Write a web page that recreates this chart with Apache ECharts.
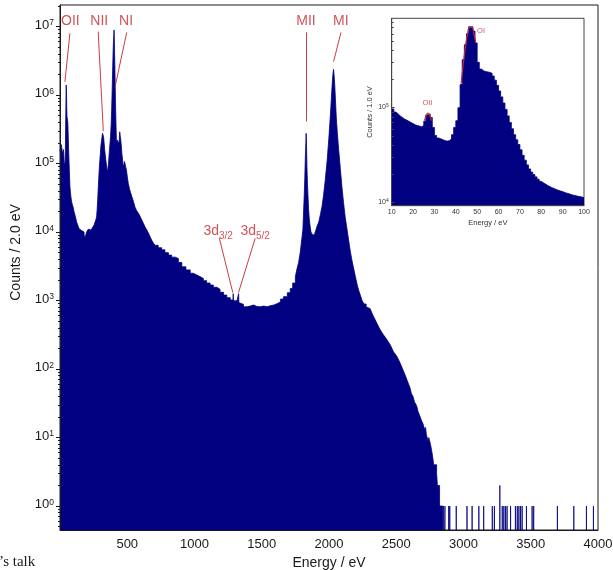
<!DOCTYPE html>
<html>
<head>
<meta charset="utf-8">
<script src="https://cdn.jsdelivr.net/npm/echarts@6/dist/echarts.min.js"></script>
<style>
html, body { margin: 0; padding: 0; background: #fff; }
#chart { width: 613px; height: 570px; }
</style>
</head>
<body>
<div id="chart"></div>
<script>
// Energy spectrum, 2 eV bins: bin start (eV) and counts in the bin
const energy = [
  0, 4, 8, 12, 16, 20, 24, 26, 28, 30, 32, 36, 38, 40, 42, 44, 46, 48, 50, 52,
  56, 58, 60, 62, 64, 66, 68, 70, 72, 74, 78, 82, 86, 92, 98, 104, 111, 117, 123, 130,
  136, 142, 148, 155, 161, 167, 173, 179, 185, 191, 198, 204, 210, 216, 223, 229, 235, 241, 247, 254,
  260, 266, 272, 276, 280, 284, 288, 292, 296, 300, 304, 308, 312, 316, 320, 324, 328, 332, 336, 340,
  344, 348, 352, 356, 360, 364, 368, 372, 376, 380, 384, 388, 392, 396, 400, 402, 404, 406, 408, 410,
  412, 414, 416, 418, 420, 424, 428, 432, 436, 440, 444, 448, 452, 456, 460, 464, 468, 472, 476, 480,
  484, 488, 494, 500, 508, 516, 524, 534, 546, 558, 570, 584, 596, 608, 620, 632, 646, 658, 670, 682,
  694, 708, 730, 756, 780, 806, 830, 856, 880, 906, 936, 968, 990, 1018, 1040, 1066, 1090, 1116, 1140, 1166,
  1190, 1216, 1240, 1266, 1286, 1288, 1290, 1316, 1326, 1328, 1330, 1340, 1364, 1390, 1414, 1440, 1464, 1490, 1514, 1540,
  1564, 1590, 1614, 1640, 1662, 1690, 1712, 1730, 1750, 1762, 1774, 1786, 1798, 1806, 1810, 1816, 1820, 1824, 1828, 1830,
  1832, 1834, 1836, 1840, 1844, 1848, 1854, 1860, 1866, 1874, 1882, 1890, 1898, 1910, 1924, 1936, 1948, 1960, 1972, 1986,
  1998, 2006, 2014, 2020, 2026, 2030, 2034, 2038, 2042, 2048, 2054, 2062, 2072, 2084, 2096, 2108, 2120, 2134, 2146, 2158,
  2170, 2184, 2196, 2208, 2220, 2234, 2246, 2260, 2276, 2290, 2306, 2320, 2332, 2344, 2356, 2370, 2382, 2394, 2406, 2420,
  2432, 2444, 2456, 2468, 2480, 2494, 2506, 2518, 2530, 2542, 2556, 2568, 2580, 2592, 2604, 2612, 2618, 2624, 2630, 2636,
  2642, 2648, 2654, 2662, 2668, 2674, 2680, 2686, 2692, 2698, 2704, 2712, 2718, 2724, 2730, 2736, 2742, 2748, 2754, 2760,
  2766, 2772, 2778, 2790, 2800, 2806, 2814, 2822, 2846
];
const counts = [
  150000, 170000, 190000, 175000, 155000, 135000, 130000, 160000, 170000, 115000, 94000, 90000, 105000, 150000, 340000, 750000, 1400000, 1200000, 650000, 490000,
  470000, 400000, 300000, 230000, 160000, 120000, 95000, 75000, 57000, 46000, 37000, 32000, 28000, 25000, 23000, 20000, 17800, 16000, 14000, 13000,
  12000, 11200, 10700, 10500, 11000, 10300, 10000, 9200, 8100, 9000, 10000, 10500, 11000, 10800, 10700, 11000, 11000, 11500, 12000, 12800,
  13400, 15000, 16600, 21000, 29000, 42000, 60000, 85000, 110000, 140000, 180000, 210000, 240000, 276000, 260000, 245000, 200000, 160000, 135000, 115000,
  100000, 85000, 76000, 85000, 98000, 125000, 160000, 200000, 250000, 360000, 600000, 1200000, 2600000, 5000000, 7500000, 8900000, 6500000, 4000000, 2600000, 1500000,
  900000, 600000, 400000, 270000, 200000, 210000, 220000, 210000, 195000, 210000, 290000, 250000, 220000, 180000, 140000, 120000, 100000, 89000, 90000, 107000,
  105000, 90000, 80000, 65000, 51000, 43000, 38000, 33000, 28000, 23000, 20500, 18700, 16800, 15000, 13400, 11900, 10700, 9600, 8500, 7600,
  6900, 6400, 5900, 5500, 5000, 4600, 4300, 4100, 3600, 3100, 2800, 2500, 2350, 2240, 2100, 1950, 1800, 1680, 1560, 1460,
  1320, 1200, 1100, 1020, 1000, 1260, 990, 955, 960, 1260, 930, 880, 810, 830, 860, 820, 810, 830, 810, 840,
  860, 900, 960, 1050, 1140, 1300, 1500, 1800, 2240, 2900, 3600, 5000, 8000, 11000, 18000, 35000, 60000, 120000, 200000, 276000,
  220000, 140000, 90000, 50000, 33000, 22000, 15000, 12000, 10000, 9300, 9000, 9400, 10000, 12000, 14000, 18000, 23500, 35000, 57000, 110000,
  220000, 380000, 670000, 1100000, 1660000, 2100000, 2370000, 1900000, 1480000, 850000, 480000, 280000, 158000, 85000, 46000, 27000, 16700, 11000, 7600, 5300,
  3900, 2900, 2240, 1750, 1420, 1180, 1000, 890, 810, 760, 730, 650, 580, 520, 465, 410, 370, 340, 313, 288,
  265, 244, 224, 200, 178, 164, 151, 136, 121, 106, 91, 80, 69, 60, 52, 44, 47, 40, 39, 33,
  35, 30, 28, 24, 25, 21, 21, 18, 19, 16, 16, 13, 14, 11, 11, 9, 10, 9, 8, 7,
  6, 5, 4, 4, 3, 2, 2, 1, 0
];
// Isolated single events beyond the end of the continuum (2 eV bins)
const tailEnergy = [
  2850, 2862, 2890, 2898, 2946, 3026, 3064, 3114, 3150, 3214, 3230, 3270, 3288, 3300, 3312,
  3324, 3350, 3386, 3400, 3412, 3424, 3436, 3468, 3510, 3522, 3698, 3820, 3914, 3966
];
const tailCounts = [
  1, 1, 1, 1, 1, 1, 1, 1, 1, 1, 1, 2, 1, 1, 1,
  1, 1, 1, 1, 1, 1, 1, 1, 1, 1, 1, 1, 1, 1
];
const mainBin = 2;
const mainEnd = 4000;

// Low-energy detail, 1 eV bins
const insetEnergy = [
  10, 11, 12, 13, 14, 15, 16, 17, 18, 19, 20, 21, 22, 23, 24, 25, 26, 27, 28, 29,
  30, 31, 32, 33, 34, 35, 36, 37, 38, 39, 40, 41, 42, 43, 44, 45, 46, 47, 48, 49,
  50, 51, 52, 53, 54, 55, 56, 57, 58, 59, 60, 61, 62, 63, 64, 65, 66, 67, 68, 69,
  70, 71, 72, 73, 74, 75, 76, 77, 78, 79, 80, 81, 82, 83, 84, 85, 86, 87, 88, 89,
  90, 91, 92, 93, 94, 95, 96, 97, 98, 99
];
const insetCounts = [
  97000, 90000, 86000, 82000, 79000, 76000, 74000, 72000, 70000, 68000,
  66000, 65000, 64000, 63000, 65000, 72000, 84000, 86000, 79000, 62000,
  51000, 48000, 47000, 46000, 45000, 44500, 45000, 47000, 52000, 62000,
  73000, 100000, 175000, 320000, 460000, 600000, 710000, 710000, 640000, 480000,
  300000, 255000, 245000, 240000, 238000, 235000, 230000, 215000, 195000, 172000,
  150000, 130000, 112000, 96000, 82000, 70000, 60000, 52000, 46000, 41000,
  36000, 31500, 28000, 25000, 22700, 21000, 19800, 18700, 17700, 16800,
  16200, 15700, 15200, 14800, 14400, 14100, 13800, 13500, 13300, 13100,
  12800, 12600, 12400, 12200, 12000, 11900, 11700, 11600, 11500, 11300
];
const insetEnd = 100;

// Fitted line shapes of the two oxygen lines in the detail panel
const oiFitEnergy = [42.5, 43.5, 44.5, 45.5, 46.5, 47.5, 48.5, 49.3];
const oiFitCounts = [180000, 290000, 440000, 600000, 700000, 700000, 600000, 480000];
const oiiFitEnergy = [25.3, 26.2, 27.0, 27.8, 28.6];
const oiiFitCounts = [73000, 83000, 88000, 83000, 73000];

// Axis ticks
const mainDecades = [1, 10, 100, 1000, 1e4, 1e5, 1e6, 1e7];
const insetDecades = [1e4, 1e5];
const energyTicks = [500, 1000, 1500, 2000, 2500, 3000, 3500, 4000];
const insetEnergyTicks = [10, 20, 30, 40, 50, 60, 70, 80, 90, 100];

// Line identifications: label anchor and leader line, in data units
const peakNotes = [
  { text: '{m|OII}', at: [77, 1.175e7], from: [73.7, 7.95e6], to: [36.5, 1.56e6] },
  { text: '{m|NII}', at: [292, 1.175e7], from: [284, 8.4e6], to: [322, 3.0e5] },
  { text: '{m|NI}', at: [491, 1.175e7], from: [496, 8.2e6], to: [409, 1.3e6] },
  { text: '{m|MII}', at: [1829, 1.175e7], from: [1831, 8.2e6], to: [1831, 4.1e5] },
  { text: '{m|MI}', at: [2088, 1.175e7], from: [2089, 8.2e6], to: [2034, 3.06e6] },
  { text: '{m|3d}{s|3/2}', at: [1176, 1.0e4], from: [1185, 8.1e3], to: [1285, 1.3e3] },
  { text: '{m|3d}{s|5/2}', at: [1451, 1.0e4], from: [1451, 8.1e3], to: [1327, 1.3e3] }
];
const insetNotes = [
  { text: 'OII', at: [26.7, 1.12e5] },
  { text: 'OI', at: [51.8, 6.5e5] }
];

const NAVY = '#000080';
const RED = '#c4282e';
const INK = '#1a1a1a';
const FONT = '"Liberation Sans", Arial, sans-serif';
const EMPTY = 1e-3; // empty bins sit below the visible log range

function minorValues(lo, hi) {
  const out = [];
  for (let k = -1; k <= 7; k++) {
    for (let m = 2; m <= 9; m++) {
      const v = m * Math.pow(10, k);
      if (v > lo && v < hi) out.push(v);
    }
  }
  return out;
}

// histogram outline for the main spectrum
const mainPoints = energy.map((e, i) => [e, counts[i] > 0 ? counts[i] : EMPTY]);
tailEnergy.forEach((e, i) => {
  mainPoints.push([e, tailCounts[i]]);
  mainPoints.push([e + mainBin, EMPTY]);
});
mainPoints.push([mainEnd, EMPTY]);

const insetPoints = insetEnergy.map((e, i) => [e, insetCounts[i]]);
insetPoints.push([insetEnd, insetCounts[insetCounts.length - 1]]);

const mainMin = 0.447, mainMax = 2.06e7;
const insetMin = 9300, insetMax = 873000;

function decadeLabel(v) {
  const k = Math.round(Math.log10(v));
  return '{b|10}{s|' + k + '}';
}

const chart = echarts.init(document.getElementById('chart'), null, { renderer: 'canvas' });

chart.setOption({
  animation: false,
  backgroundColor: '#fff',
  textStyle: { fontFamily: FONT },
  grid: [
    { left: 60, top: 5, width: 538, height: 525, show: true, borderColor: INK, borderWidth: 1,
      backgroundColor: 'transparent', containLabel: false, outerBoundsMode: 'none' },
    { left: 391.7, top: 18.3, width: 192.3, height: 187.4, show: true, borderColor: '#444', borderWidth: 1,
      backgroundColor: 'transparent', containLabel: false, outerBoundsMode: 'none' }
  ],
  xAxis: [
    {
      type: 'value', gridIndex: 0, min: 0, max: 4000, interval: 500, z: 10,
      name: 'Energy / eV', nameLocation: 'middle', nameGap: 25,
      nameTextStyle: { color: INK, fontSize: 14, fontFamily: FONT },
      axisLine: { show: true, lineStyle: { color: INK, width: 1 } },
      axisTick: { show: false },
      splitLine: { show: false },
      axisLabel: { customValues: energyTicks, color: INK, fontSize: 13, margin: 8, fontFamily: FONT,
        formatter: v => String(v) }
    },
    {
      type: 'value', gridIndex: 1, min: 10, max: 100, interval: 10, z: 10,
      name: 'Energy / eV', nameLocation: 'middle', nameGap: 13,
      nameTextStyle: { color: '#333', fontSize: 7.5, fontFamily: FONT },
      axisLine: { show: true, lineStyle: { color: '#444', width: 1 } },
      axisTick: { show: false },
      splitLine: { show: false },
      axisLabel: { customValues: insetEnergyTicks, color: '#333', fontSize: 7, margin: 3, fontFamily: FONT,
        formatter: v => String(v) }
    }
  ],
  yAxis: [
    {
      type: 'log', logBase: 10, gridIndex: 0, position: 'left', min: mainMin, max: mainMax, z: 10,
      name: 'Counts / 2.0 eV', nameLocation: 'middle', nameGap: 37,
      nameTextStyle: { color: INK, fontSize: 14, fontFamily: FONT, padding: [0, 0, 0, 30] },
      axisLine: { show: true, lineStyle: { color: INK, width: 1 } },
      axisTick: { show: true, inside: false, length: 4, customValues: mainDecades, lineStyle: { color: INK, width: 1 } },
      splitLine: { show: false },
      minorTick: { show: false },
      axisLabel: {
        customValues: mainDecades, margin: 6, formatter: decadeLabel,
        rich: {
          b: { fontSize: 13, lineHeight: 16, verticalAlign: 'top', color: INK, fontFamily: FONT },
          s: { fontSize: 8.5, lineHeight: 8, verticalAlign: 'top', color: INK, fontFamily: FONT }
        }
      }
    },
    {
      type: 'log', logBase: 10, gridIndex: 0, position: 'left', offset: 0, min: mainMin, max: mainMax, z: 10,
      axisLine: { show: false },
      axisTick: { show: true, inside: false, length: 2, customValues: minorValues(mainMin, mainMax), lineStyle: { color: INK, width: 1 } },
      axisLabel: { show: false },
      splitLine: { show: false }
    },
    {
      type: 'log', logBase: 10, gridIndex: 1, position: 'left', min: insetMin, max: insetMax, z: 10,
      name: 'Counts / 1.0 eV', nameLocation: 'middle', nameGap: 18,
      nameTextStyle: { color: '#333', fontSize: 7.5, fontFamily: FONT },
      axisLine: { show: true, lineStyle: { color: '#444', width: 1 } },
      axisTick: { show: true, inside: true, length: 3, customValues: insetDecades, lineStyle: { color: '#444', width: 1 } },
      splitLine: { show: false },
      axisLabel: {
        customValues: insetDecades, margin: 3, formatter: decadeLabel,
        rich: {
          b: { fontSize: 7, lineHeight: 9, verticalAlign: 'top', color: '#333', fontFamily: FONT },
          s: { fontSize: 5, lineHeight: 5, verticalAlign: 'top', color: '#333', fontFamily: FONT }
        }
      }
    },
    {
      type: 'log', logBase: 10, gridIndex: 1, position: 'left', offset: 0, min: insetMin, max: insetMax, z: 10,
      axisLine: { show: false },
      axisTick: { show: true, inside: true, length: 2, customValues: minorValues(insetMin, insetMax), lineStyle: { color: '#444', width: 1 } },
      axisLabel: { show: false },
      splitLine: { show: false }
    }
  ],
  series: [
    {
      name: 'spectrum', type: 'line', xAxisIndex: 0, yAxisIndex: 0,
      data: mainPoints, step: 'end', symbol: 'none', showSymbol: false, clip: true, silent: true,
      lineStyle: { color: NAVY, width: 0.8 },
      areaStyle: { color: NAVY, opacity: 1, origin: 'start' },
      markLine: {
        silent: true, symbol: ['none', 'none'], animation: false,
        label: { show: false },
        lineStyle: { color: RED, width: 1, type: 'solid', opacity: 0.9 },
        data: peakNotes.map(n => [{ coord: n.from }, { coord: n.to }])
      }
    },
    {
      name: 'line ids', type: 'scatter', xAxisIndex: 0, yAxisIndex: 0, silent: true,
      symbolSize: 0,
      data: peakNotes.map(n => ({ value: n.at, name: n.text })),
      label: {
        show: true, position: 'inside', formatter: p => p.name,
        color: RED, fontSize: 14, fontFamily: FONT,
        rich: {
          m: { fontSize: 14, lineHeight: 16, verticalAlign: 'top', color: RED, fontFamily: FONT },
          s: { fontSize: 10, lineHeight: 16, verticalAlign: 'top', padding: [7, 0, 0, 0], color: RED, fontFamily: FONT }
        }
      }
    },
    {
      name: 'detail', type: 'line', xAxisIndex: 1, yAxisIndex: 2,
      data: insetPoints, step: 'end', symbol: 'none', showSymbol: false, clip: true, silent: true,
      lineStyle: { color: NAVY, width: 0.8 },
      areaStyle: { color: NAVY, opacity: 1, origin: 'start' }
    },
    {
      name: 'OI fit', type: 'line', xAxisIndex: 1, yAxisIndex: 2, smooth: true,
      data: oiFitEnergy.map((e, i) => [e, oiFitCounts[i]]), symbol: 'none', silent: true,
      lineStyle: { color: RED, width: 1.2 }
    },
    {
      name: 'OII fit', type: 'line', xAxisIndex: 1, yAxisIndex: 2, smooth: true,
      data: oiiFitEnergy.map((e, i) => [e, oiiFitCounts[i]]), symbol: 'none', silent: true,
      lineStyle: { color: RED, width: 1.2 }
    },
    {
      name: 'detail ids', type: 'scatter', xAxisIndex: 1, yAxisIndex: 2, silent: true,
      symbolSize: 0,
      data: insetNotes.map(n => ({ value: n.at, name: n.text })),
      label: { show: true, position: 'inside', formatter: p => p.name, color: RED, fontSize: 7.5, fontFamily: FONT }
    }
  ],
  graphic: [
    {
      type: 'text', left: -1, top: 555,
      style: { text: '\u2019s talk', font: '15px "Liberation Serif", "DejaVu Serif", serif', fill: INK }
    }
  ]
});
</script>
</body>
</html>
